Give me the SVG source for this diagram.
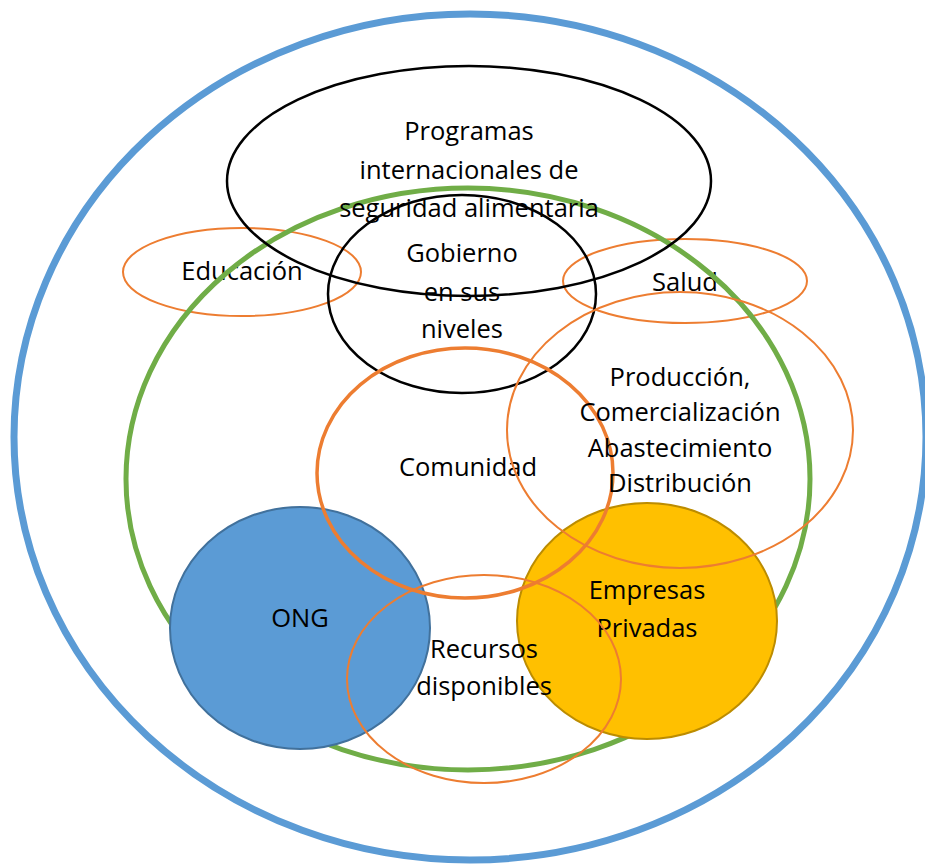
<svg xmlns="http://www.w3.org/2000/svg" width="925" height="867" viewBox="0 0 925 867">
<style>
text{font-family:"Open Sans",Lato,"Liberation Sans",sans-serif;font-size:25.5px;fill:#000;text-anchor:middle}
.orange{fill:none;stroke:#ED7D31;stroke-width:2}
.black{fill:none;stroke:#000;stroke-width:2.5}
</style>
<rect width="925" height="867" fill="#fff"/>
<g id="node-entorno"><ellipse cx="470" cy="437" rx="456" ry="423" fill="none" stroke="#5B9BD5" stroke-width="7"/></g>
<g id="node-educacion"><ellipse class="orange" cx="242" cy="272" rx="119" ry="44"/><text x="242" y="280">Educación</text></g>
<g id="node-salud"><ellipse class="orange" cx="685" cy="281" rx="122" ry="42"/><text x="685" y="291">Salud</text></g>
<g id="node-seguridad"><ellipse cx="468" cy="479" rx="342" ry="291" fill="none" stroke="#70AD47" stroke-width="5"/></g>
<g id="node-programas"><ellipse class="black" cx="469" cy="181" rx="242" ry="115"/><text x="469" y="140">Programas</text><text x="469" y="179">internacionales de</text><text x="469" y="217">seguridad alimentaria</text></g>
<g id="node-gobierno"><ellipse class="black" cx="462" cy="294" rx="134" ry="99"/><text x="462" y="262">Gobierno</text><text x="462" y="301">en sus</text><text x="462" y="338">niveles</text></g>
<g id="node-ong"><ellipse cx="300" cy="628" rx="130" ry="121" fill="#5B9BD5" stroke="#41719C" stroke-width="2"/><text x="300" y="627">ONG</text></g>
<g id="node-empresas"><ellipse cx="647" cy="621" rx="130" ry="118" fill="#FFC000" stroke="#BC8C00" stroke-width="2"/><text x="647" y="599">Empresas</text><text x="647" y="637">Privadas</text></g>
<g id="node-comunidad"><ellipse cx="465" cy="473" rx="148" ry="125" fill="none" stroke="#ED7D31" stroke-width="3.5"/><text x="468" y="476">Comunidad</text></g>
<g id="node-produccion"><ellipse class="orange" cx="680" cy="430" rx="173" ry="138"/><text x="680" y="386">Producción,</text><text x="680" y="421">Comercialización</text><text x="680" y="457">Abastecimiento</text><text x="680" y="492">Distribución</text></g>
<g id="node-recursos"><ellipse class="orange" cx="484" cy="679" rx="137" ry="104"/><text x="484" y="658">Recursos</text><text x="484" y="695">disponibles</text></g>
<g id="connectors"></g>
</svg>
